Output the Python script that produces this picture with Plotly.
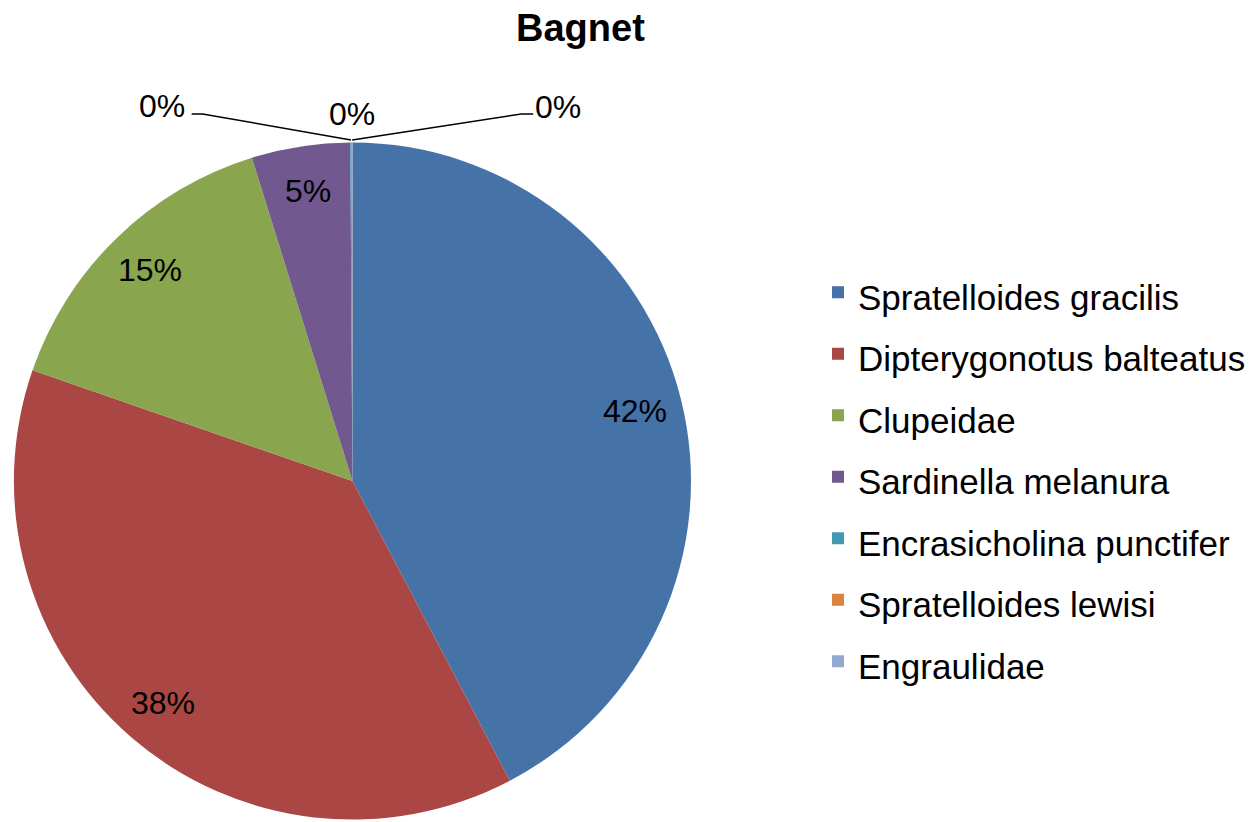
import math
import plotly.graph_objects as go

# data (percent of catch)
species = ["Spratelloides gracilis", "Dipterygonotus balteatus", "Clupeidae",
           "Sardinella melanura", "Encrasicholina punctifer", "Spratelloides lewisi",
           "Engraulidae"]
share = [42.3, 38.0, 14.9, 4.7, 0.06, 0.02, 0.02]
colors = ["#4572A7", "#AA4643", "#89A54E", "#71588F", "#4198AF", "#DB843D", "#93A9CF"]

W, H = 1251, 822
cx, cy, r = 355, 481, 341          # pie centre / radius in pixels
FONT = "Liberation Sans, Arial, sans-serif"

def px(x, y):
    return x / W, 1 - y / H

legend_labels = ['<span style="font-size:35px">%s</span>' % s for s in species]

fig = go.Figure(go.Pie(
    labels=legend_labels, values=share, sort=False,
    direction="clockwise", rotation=0,
    marker=dict(colors=colors, line=dict(width=0)),
    textinfo="none", hoverinfo="label+percent",
    domain=dict(x=[(cx - r) / W, (cx + r) / W], y=[1 - (cy + r) / H, 1 - (cy - r) / H]),
))

def label(x, y, txt, size=32):
    return dict(x=px(x, y)[0], y=px(x, y)[1], xref="paper", yref="paper",
                xanchor="center", yanchor="middle", text=txt, showarrow=False,
                font=dict(size=size, color="black", family=FONT))

# percent labels, Excel style
total = sum(share)
annotations = []
shapes = []
small_pos = [(163, 106), (355, 114), (562, 107)]   # where the tiny-slice labels sit
k = 0
start = 0.0
for v in share:
    frac = v / total
    mid = (start + frac / 2) * 2 * math.pi
    start += frac
    txt = "%d%%" % round(frac * 100)
    if frac >= 0.01:
        annotations.append(label(cx + 0.86 * r * math.sin(mid), cy - 0.86 * r * math.cos(mid), txt))
    else:
        lx, ly = small_pos[k]
        annotations.append(label(lx, ly, txt))
        tx = cx + r * math.sin(mid)
        ty = cy - r * math.cos(mid)
        if k == 0:
            pts = [(193, 114), (204, 114), (tx, ty)]
        elif k == 2:
            pts = [(tx, ty), (525, 114), (537, 114)]
        else:
            pts = []
        if pts:
            path = "M " + " L ".join("%.4f,%.4f" % px(a, b) for a, b in pts)
            shapes.append(dict(type="path", path=path, xref="paper", yref="paper",
                               line=dict(color="black", width=1.5)))
        k += 1

annotations.append(label(585, 28, "<b>Bagnet</b>", size=38))

fig.update_layout(
    width=W, height=H,
    margin=dict(l=0, r=0, t=0, b=0),
    paper_bgcolor="white",
    font=dict(family=FONT, color="black"),
    annotations=annotations,
    shapes=shapes,
    legend=dict(x=824 / W, y=1 - 477 / H, xanchor="left", yanchor="middle",
                font=dict(size=45, color="black", family=FONT),
                bgcolor="rgba(0,0,0,0)"),
)

fig.write_html("out.html", config={"displayModeBar": False},
               post_script="document.body.style.margin='0';")
